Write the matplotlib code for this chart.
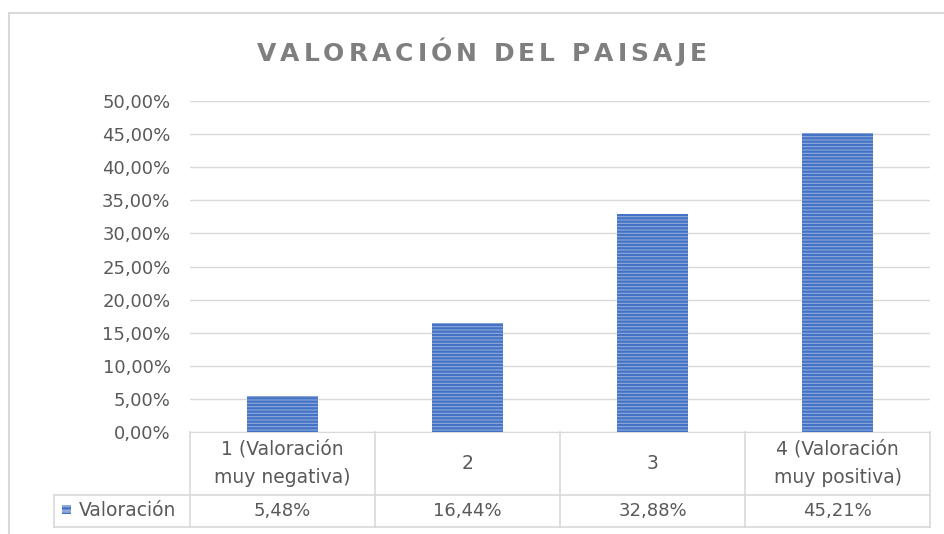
import matplotlib.pyplot as plt
import matplotlib.transforms as mtransforms
from matplotlib.patches import Rectangle
from matplotlib.lines import Line2D

# Data
categories = ["1 (Valoración\nmuy negativa)", "2", "3", "4 (Valoración\nmuy positiva)"]
values = [0.0548, 0.1644, 0.3288, 0.4521]
value_labels = ["5,48%", "16,44%", "32,88%", "45,21%"]
series_name = "Valoración"
title = "VALORACIÓN DEL PAISAJE"
y_ticks = [0.0, 0.05, 0.10, 0.15, 0.20, 0.25, 0.30, 0.35, 0.40, 0.45, 0.50]

W, H = 944, 534
text_gray = "#595959"
grid_gray = "#d9d9d9"
bar_face = "#8eaadb"
bar_hatch = "#4472c4"
fs = 13

plt.rcParams["font.family"] = "DejaVu Sans"
plt.rcParams["hatch.linewidth"] = 1.6

fig = plt.figure(figsize=(W / 100, H / 100), dpi=100)

def fx(px):
    return px / W

def fy(py):
    return 1 - py / H

# Plot area
ax = fig.add_axes([fx(190), fy(432), fx(930) - fx(190), fy(101) - fy(432)])
x = list(range(len(values)))
ax.bar(x, values, width=0.385, color=bar_face, edgecolor=bar_hatch, hatch="-----",
       linewidth=0, zorder=3)
ax.set_xlim(-0.5, len(values) - 0.5)
ax.set_ylim(0, 0.5)
ax.set_yticks(y_ticks)
ax.set_yticklabels([f"{t * 100:.2f}%".replace(".", ",") for t in y_ticks],
                   color=text_gray, fontsize=fs)
ax.tick_params(axis="y", length=0, pad=14)
ax.set_xticks([])
ax.grid(axis="y", color=grid_gray, linewidth=1, zorder=0)
for s in ["top", "right", "left"]:
    ax.spines[s].set_visible(False)
ax.spines["bottom"].set_color(grid_gray)

# Data table under the axes: x in data coords, y in figure pixels
trans = mtransforms.blended_transform_factory(ax.transData, fig.transFigure)
row1_top, row1_bot, row2_bot = fy(432), fy(495), fy(527)
legend_left = -0.5 - (190 - 54) / 185.0

line_kw = dict(color=grid_gray, linewidth=1.2, transform=trans, clip_on=False)
for edge in [i - 0.5 for i in range(len(values) + 1)]:
    fig.add_artist(Line2D([edge, edge], [row1_top, row2_bot], **line_kw))
fig.add_artist(Line2D([legend_left, len(values) - 0.5], [row1_bot, row1_bot], **line_kw))
fig.add_artist(Line2D([legend_left, len(values) - 0.5], [row2_bot, row2_bot], **line_kw))
fig.add_artist(Line2D([legend_left, legend_left], [row1_bot, row2_bot], **line_kw))

for i, (cat, lab) in enumerate(zip(categories, value_labels)):
    fig.text(i, (row1_top + row1_bot) / 2, cat, transform=trans, ha="center", va="center",
             color=text_gray, fontsize=13.5, linespacing=1.65)
    fig.text(i, (row1_bot + row2_bot) / 2, lab, transform=trans, ha="center", va="center",
             color=text_gray, fontsize=fs)

# Legend key in table
fig.add_artist(Rectangle((fx(62), fy(514)), fx(9), fy(505) - fy(514), facecolor=bar_face,
                         edgecolor=bar_hatch, hatch="---", linewidth=0))
fig.text(fx(79), (row1_bot + row2_bot) / 2, series_name, ha="left", va="center",
         color=text_gray, fontsize=13.5)

# Title with letter spacing
renderer = fig.canvas.get_renderer()
tfs = 18
tmp = fig.text(0, 0, title, fontsize=tfs, fontweight="bold")
plain_w = tmp.get_window_extent(renderer).width
tmp.remove()
spacing = 4.0
total_w = plain_w + spacing * (len(title) - 1)
cur = 479 - total_w / 2
tsp = fig.text(0, 0, "a a", fontsize=tfs, fontweight="bold")
tsa = fig.text(0, 0, "aa", fontsize=tfs, fontweight="bold")
space_w = tsp.get_window_extent(renderer).width - tsa.get_window_extent(renderer).width
tsp.remove()
tsa.remove()
for ch in title:
    t = fig.text(fx(cur), fy(54), ch, fontsize=tfs, fontweight="bold", color="#7f7f7f",
                 ha="left", va="center")
    w = t.get_window_extent(renderer).width if ch != " " else space_w
    cur += w + spacing

# Chart border
fig.add_artist(Line2D([fx(9), fx(9)], [fy(13), 0], color=grid_gray, linewidth=1.5))
fig.add_artist(Line2D([fx(9), 1], [fy(13), fy(13)], color=grid_gray, linewidth=1.5))

fig.savefig("out.png", dpi=100)
